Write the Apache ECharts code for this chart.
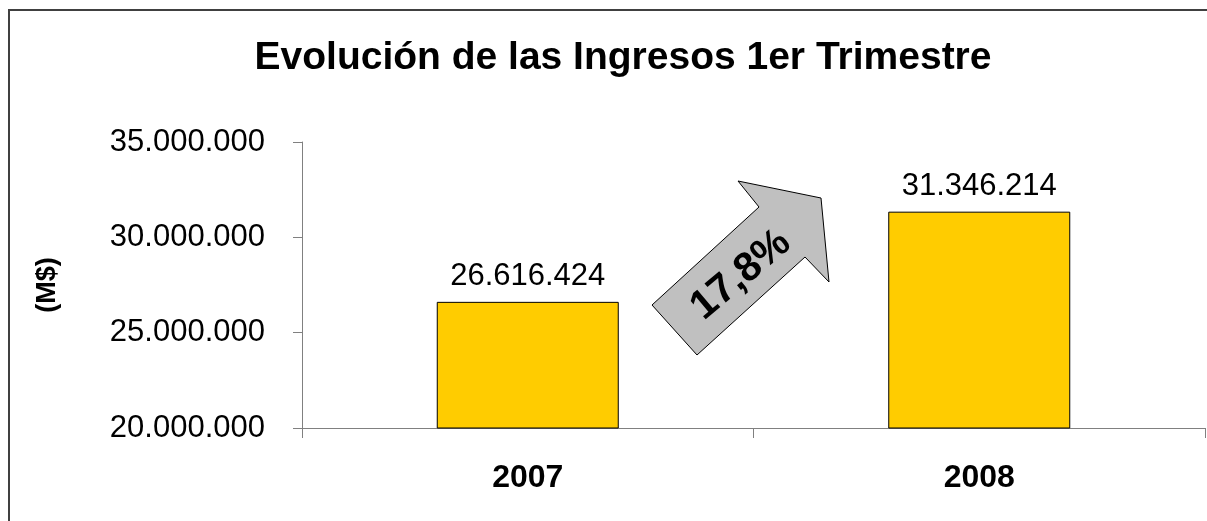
<!DOCTYPE html>
<html lang="es">
  <head>
    <meta charset="UTF-8" />
    <title>Evolución de las Ingresos 1er Trimestre</title>
    <script src="https://cdn.jsdelivr.net/npm/echarts@6/dist/echarts.min.js"></script>
    <style>
      html, body { margin: 0; padding: 0; background: #fff; overflow: hidden; }
      #main { width: 1207px; height: 521px; }
    </style>
  </head>
  <body>
    <div id="main"></div>
    <script>
      // datos
      const years = ["2007", "2008"];
      const ingresos = [26616424, 31346214];
      const yTicks = { min: 20000000, max: 35000000, step: 5000000 };
      const variacion = "17,8%";

      const font = "'Liberation Sans', Arial, sans-serif";

      // separador de miles con punto
      const fmt = (v) => String(Math.round(v)).replace(/\B(?=(\d{3})+(?!\d))/g, ".");

      const chart = echarts.init(document.getElementById("main"));

      const option = {
        animation: false,
        title: {
          text: "Evolución de las Ingresos 1er Trimestre",
          left: 618,
          textAlign: "center",
          top: 34,
          textStyle: { fontFamily: font, fontSize: 39, fontWeight: "bold", color: "#000" },
        },
        grid: { left: 302, right: 2, top: 142, bottom: 93 },
        xAxis: {
          type: "category",
          data: years,
          axisLine: { lineStyle: { color: "#808080", width: 1 } },
          axisTick: { show: true, length: 10, lineStyle: { color: "#808080" } },
          axisLabel: { fontFamily: font, fontSize: 32, fontWeight: "bold", color: "#000", margin: 34 },
        },
        yAxis: {
          type: "value",
          min: yTicks.min,
          max: yTicks.max,
          interval: yTicks.step,
          name: "(M$)",
          nameLocation: "middle",
          nameRotate: 90,
          nameGap: 241,
          nameTextStyle: { fontFamily: font, fontSize: 27, fontWeight: "bold", color: "#000" },
          splitLine: { show: false },
          axisLine: { show: true, lineStyle: { color: "#808080", width: 1 } },
          axisTick: { show: true, length: 9, lineStyle: { color: "#808080" } },
          axisLabel: {
            fontFamily: font,
            fontSize: 31,
            color: "#000",
            margin: 37,
            formatter: fmt,
          },
        },
        series: [
          {
            type: "bar",
            data: ingresos,
            barWidth: 182,
            itemStyle: { color: "#FFCC00", borderColor: "#000", borderWidth: 1 },
            label: {
              show: true,
              position: "top",
              distance: 10,
              fontFamily: font,
              fontSize: 31,
              color: "#000",
              formatter: (p) => fmt(p.value),
            },
          },
        ],
        graphic: [
          // marco: sólo bordes izquierdo y superior visibles
          {
            type: "polyline",
            z: -10,
            shape: { points: [[9, 521], [9, 10], [1207, 10]] },
            style: { fill: "none", stroke: "#404040", lineWidth: 2 },
          },
          // flecha de crecimiento
          {
            type: "polygon",
            z: 10,
            shape: {
              points: [
                [652, 305],
                [697, 355],
                [805, 257],
                [829, 282],
                [821, 198],
                [738, 181],
                [759, 207],
              ],
            },
            style: { fill: "#C0C0C0", stroke: "#000", lineWidth: 1 },
          },
          {
            type: "text",
            z: 11,
            x: 741,
            y: 275,
            rotation: (40 * Math.PI) / 180,
            style: {
              text: variacion,
              fontFamily: font,
              fontSize: 41,
              fontWeight: "bold",
              fill: "#000",
              align: "center",
              verticalAlign: "middle",
            },
          },
        ],
      };

      chart.setOption(option);
    </script>
  </body>
</html>
